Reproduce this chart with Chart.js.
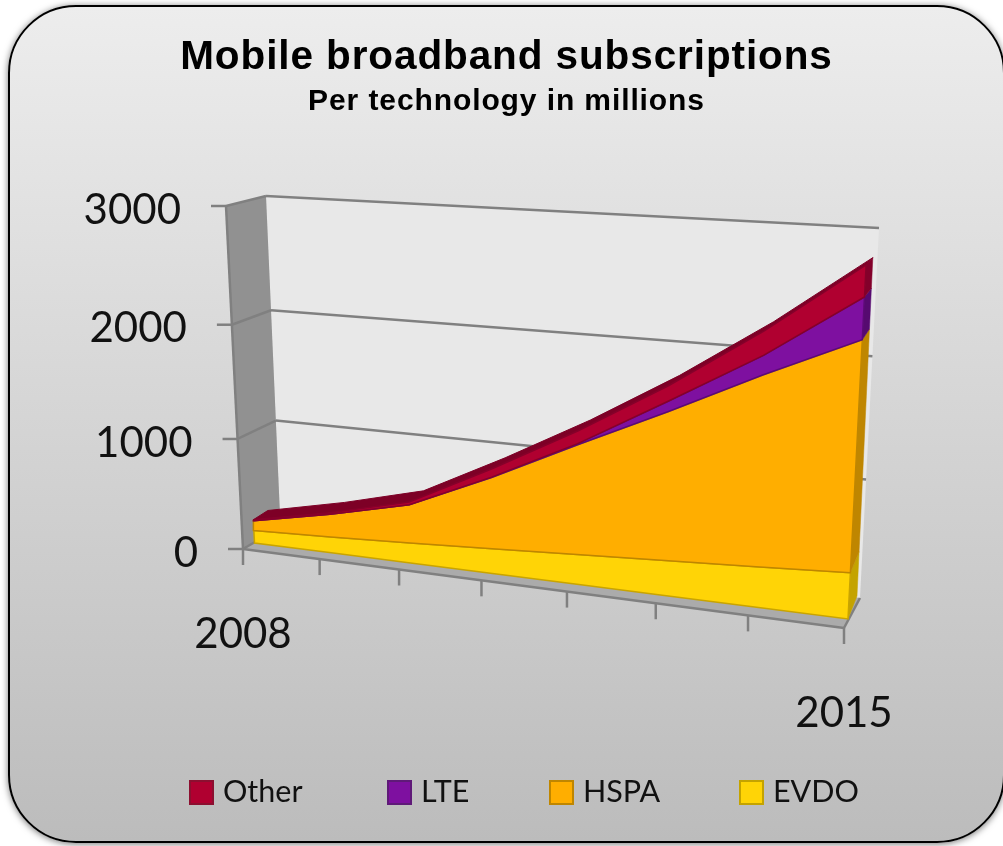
<!DOCTYPE html>
<html><head><meta charset="utf-8">
<style>
html,body{margin:0;padding:0;background:#fff;overflow:hidden;width:1003px;height:846px}
#panel{position:absolute;left:8px;top:5px;width:997px;height:838px;box-sizing:border-box;border:2px solid #000;border-radius:68px;background:linear-gradient(#ededed,#bcbcbc);box-shadow:0 1px 7px rgba(0,0,0,.55)}
canvas{position:absolute;left:0;top:0}
</style>
<script src="https://cdn.jsdelivr.net/npm/chart.js@4"></script>
</head><body>
<div id="panel"></div>
<canvas id="c" width="1003" height="846"></canvas>
<script>
const years = [2008,2009,2010,2011,2012,2013,2014,2015];
const evdo  = [115,145,180,220,260,300,340,385];
const hspa  = [90,205,340,620,935,1240,1560,1850];
const lte   = [0,0,0,3,10,85,155,325];
const other = [10,15,25,70,105,125,190,240];
const yTicks = [0,1000,2000,3000];
const titleText = 'Mobile broadband subscriptions';
const subtitleText = 'Per technology in millions';
const seriesNames = ['Other','LTE','HSPA','EVDO'];
const xLabelYears = [2008,2015];

// projection corners (px) : 00 = first year/0, 10 = last year/0, 11 = last/max, 01 = first/max
function homography(p00,p10,p11,p01){
  const dx1=p10[0]-p11[0],dx2=p01[0]-p11[0],sx=p00[0]-p10[0]+p11[0]-p01[0];
  const dy1=p10[1]-p11[1],dy2=p01[1]-p11[1],sy=p00[1]-p10[1]+p11[1]-p01[1];
  const den=dx1*dy2-dx2*dy1;
  const g=(sx*dy2-dx2*sy)/den,h=(dx1*sy-sx*dy1)/den;
  const a=p10[0]-p00[0]+g*p10[0],b=p01[0]-p00[0]+h*p01[0],c=p00[0];
  const d=p10[1]-p00[1]+g*p10[1],e=p01[1]-p00[1]+h*p01[1],f=p00[1];
  return (u,v)=>{const w=g*u+h*v+1;return [(a*u+b*v+c)/w,(d*u+e*v+f)/w];};
}
const PLANES = {
  wall:  homography([280.5,527],[860,598],[879,228],[266,196]),
  axis:  homography([243,549],[844,628],[865,239],[226,206]),
  front: homography([254.5,543],[848,619],[867.5,238],[237.5,201]),
  back:  homography([269,533],[857,596],[874,232],[252,203])
};
function proj(chart,plane,x,y){
  const sx=chart.scales.x,sy=chart.scales.y;
  const u=(sx.getPixelForValue(x)-sx.left)/(sx.right-sx.left);
  const v=(sy.bottom-sy.getPixelForValue(y))/(sy.bottom-sy.top);
  return PLANES[plane](u,v);
}

const zeros = years.map(()=>0);
const cum = (a,b)=>a.map((v,i)=>v+b[i]);
const topEvdo = cum(zeros,evdo), topHspa = cum(topEvdo,hspa), topLte = cum(topHspa,lte), topOther = cum(topLte,other);

function frontFace(label,upper,lower,fillC,lineC){
  const data=[...years.map((x,i)=>({x,y:upper[i]})),...years.map((x,i)=>({x,y:lower[i]})).reverse()];
  data.push(data[0]);
  return {label,data,planes:data.map(()=>'front'),backgroundColor:fillC,borderColor:lineC,borderWidth:1.5,fill:'shape',pointRadius:0,tension:0,clip:false};
}
function sideFace(label,upper,lower,fillC){
  const n=years.length-1,x=years[n];
  const data=[{x,y:lower[n]},{x,y:upper[n]},{x,y:upper[n]},{x,y:lower[n]},{x,y:lower[n]}];
  return {label,data,planes:['front','front','back','back','front'],backgroundColor:fillC,borderColor:fillC,borderWidth:.5,fill:'shape',pointRadius:0,tension:0,clip:false};
}
function topFace(label,upper,fillC){
  const data=[...years.map((x,i)=>({x,y:upper[i]})),...years.map((x,i)=>({x,y:upper[i]})).reverse()];
  data.push(data[0]);
  const planes=[...years.map(()=>'front'),...years.map(()=>'back'),'front'];
  return {label,data,planes,backgroundColor:fillC,borderColor:fillC,borderWidth:1,fill:'shape',pointRadius:0,tension:0,clip:false};
}
const legendColors = {Other:['#b00030','#8c0f30'],LTE:['#7e10a0','#5f1a78'],HSPA:['#ffae00','#bf8600'],EVDO:['#ffd406','#c4a300']};
const datasets = [
  frontFace('Other',topOther,topLte,'#b00030','#86002a'),
  frontFace('LTE',topLte,topHspa,'#7e10a0','#5c0a76'),
  frontFace('HSPA',topHspa,topEvdo,'#ffae00','#bf8600'),
  frontFace('EVDO',topEvdo,zeros,'#ffd406','#c9a400'),
  sideFace('Other side',topOther,topLte,'#83002a'),
  sideFace('LTE side',topLte,topHspa,'#560a70'),
  sideFace('HSPA side',topHspa,topEvdo,'#bf8600'),
  sideFace('EVDO side',topEvdo,zeros,'#c4a300'),
  topFace('Other top',topOther,'#7d0026')
];

const perspective = {
  id:'perspective',
  beforeDraw(chart){ chart.ctx.letterSpacing='0.9px'; },
  afterDatasetsUpdate(chart){
    chart.data.datasets.forEach((ds,i)=>{
      const meta=chart.getDatasetMeta(i);
      meta.data.forEach((pt,k)=>{
        const p=proj(chart,ds.planes[k],ds.data[k].x,ds.data[k].y);
        pt.x=p[0];pt.y=p[1];
      });
      if(meta.dataset) meta.dataset._path=undefined;
    });
  },
  beforeDatasetsDraw(chart){
    const c=chart.ctx,x0=years[0],x1=years[years.length-1],y0=yTicks[0],y1=yTicks[yTicks.length-1];
    c.letterSpacing='0px';
    const poly=(pts,fill)=>{c.beginPath();pts.forEach((p,i)=>i?c.lineTo(p[0],p[1]):c.moveTo(p[0],p[1]));c.closePath();c.fillStyle=fill;c.fill();};
    const seg=(a,b)=>{c.beginPath();c.moveTo(a[0],a[1]);c.lineTo(b[0],b[1]);c.stroke();};
    c.save();
    poly([proj(chart,'wall',x0,y0),proj(chart,'wall',x1,y0),proj(chart,'wall',x1,y1),proj(chart,'wall',x0,y1)],'#e8e8e8');
    poly([proj(chart,'axis',x0,y0),proj(chart,'wall',x0,y0),proj(chart,'wall',x0,y1),proj(chart,'axis',x0,y1)],'#919191');
    poly([proj(chart,'axis',x0,y0),proj(chart,'axis',x1,y0),proj(chart,'wall',x1,y0),proj(chart,'wall',x0,y0)],'#ababab');
    c.strokeStyle='#808080';c.lineWidth=2.5;
    seg(proj(chart,'axis',x0,y0),proj(chart,'axis',x0,y1));
    seg(proj(chart,'axis',x0,y0),proj(chart,'axis',x1,y0));
    seg(proj(chart,'axis',x1,y0),proj(chart,'wall',x1,y0));
    c.fillStyle='#111';c.font='42px Lato';c.textAlign='right';c.textBaseline='middle';
    yTicks.forEach(t=>{
      const a=proj(chart,'axis',x0,t),w0=proj(chart,'wall',x0,t),w1=proj(chart,'wall',x1,t);
      if(t!==y0) seg(w0,w1);
      seg(a,w0);
      seg(a,[a[0]-15,a[1]]);
      c.fillText(String(t),a[0]-45,a[1]+4);
    });
    c.textAlign='center';
    years.forEach(yr=>{
      const a=proj(chart,'axis',yr,y0);
      seg(a,[a[0],a[1]+16]);
      if(xLabelYears.includes(yr)) c.fillText(String(yr),a[0],a[1]+85);
    });
    c.restore();
  },
  afterDraw(chart){
    const c=chart.ctx,legendX=[190,388,550,740];
    c.save();c.font='30.5px Lato';c.textAlign='left';c.textBaseline='middle';
    const top=781,box=23;
    seriesNames.forEach((n,i)=>{
      const col=legendColors[n],x=legendX[i];
      c.fillStyle=col[0];c.strokeStyle=col[1];c.lineWidth=2;
      c.fillRect(x,top,box,box);c.strokeRect(x,top,box,box);
      c.fillStyle='#111';c.fillText(n,x+box+10,top+box/2);
    });
    c.restore();
  }
};

new Chart(document.getElementById('c'),{
  type:'line',
  data:{datasets},
  plugins:[perspective],
  options:{
    responsive:false,animation:false,
    layout:{padding:{top:34,left:10,right:0,bottom:0}},
    parsing:{xAxisKey:'x',yAxisKey:'y'},
    scales:{
      x:{type:'linear',min:years[0],max:years[years.length-1],display:false},
      y:{type:'linear',min:yTicks[0],max:yTicks[yTicks.length-1],display:false}
    },
    plugins:{
      legend:{display:false},
      tooltip:{enabled:false},
      title:{display:true,text:titleText,color:'#000',font:{family:'Liberation Sans',size:40.5,weight:'bold'},padding:{top:0,bottom:1}},
      subtitle:{display:true,text:subtitleText,color:'#000',font:{family:'Liberation Sans',size:30,weight:'bold'},padding:{top:0,bottom:10}}
    }
  }
});
</script>
</body></html>
